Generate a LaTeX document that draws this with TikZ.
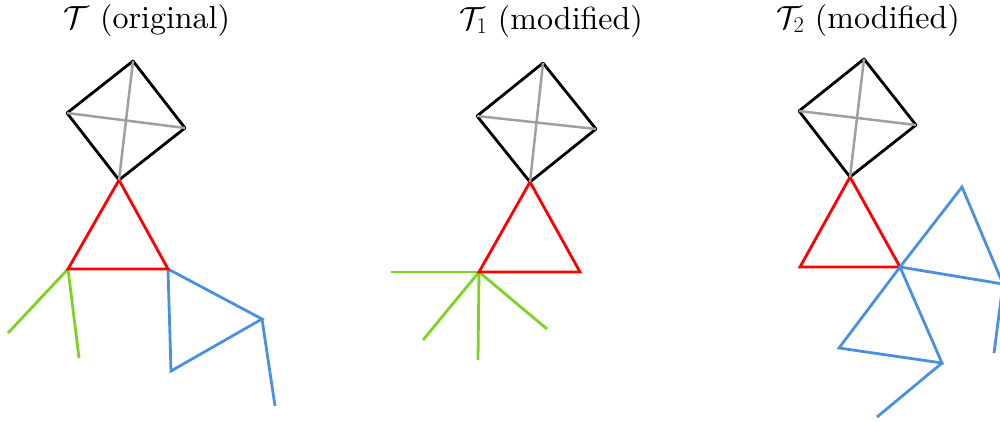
\RequirePackage{fix-cm}
\documentclass[tikz,border=0pt]{standalone}
\usepackage{fontspec}
\setmainfont{lmroman10-regular.otf}
\definecolor{grn}{HTML}{7ED321}
\definecolor{blu}{HTML}{4A90E2}
\definecolor{gry}{HTML}{A0A0A0}
\tikzset{
  sq/.style={draw=black,line width=2.8pt,line join=round},
  diag/.style={draw=gry,line width=2.5pt},
  tri/.style={draw=red,line width=2.8pt,line join=miter},
  gedge/.style={draw=grn,line width=2.8pt},
  bedge/.style={draw=blu,line width=2.8pt,line join=miter},
  title/.style={anchor=base,inner sep=0pt,font=\fontsize{32pt}{38pt}\selectfont}
}
\begin{document}
\begin{tikzpicture}[x=1pt,y=-1pt]
\clip (0,0) rectangle (1000,421);
% titles
\node[title] (t0) at (147,28) {$\mathcal{T}$ (original)};
\node[title] (t1) at (551,29) {$\mathcal{T}_1$ (modified)};
\node[title] (t2) at (868,28) {$\mathcal{T}_2$ (modified)};
% panel 1
\coordinate (a1t) at (133,61); \coordinate (a1l) at (67,113);
\coordinate (a1r) at (185,128); \coordinate (a1b) at (119,180);
\coordinate (r1l) at (68,269); \coordinate (r1r) at (168,269);
\coordinate (g1a) at (8,333); \coordinate (g1b) at (79,358);
\coordinate (b1a) at (262,319); \coordinate (b1b) at (171,371); \coordinate (b1c) at (275,406);
\draw[gedge] (r1l) -- (g1a);
\draw[gedge] (r1l) -- (g1b);
\draw[bedge] (r1r) -- (b1a) -- (b1b) -- cycle;
\draw[bedge] (b1a) -- (b1c);
\draw[sq] (a1t) -- (a1r) -- (a1b) -- (a1l) -- cycle;
\draw[tri] (a1b) -- (r1r) -- (r1l) -- cycle;
\draw[diag] (a1t) -- (a1b);
\draw[diag] (a1l) -- (a1r);
% panel 2
\coordinate (a2t) at (543,63); \coordinate (a2l) at (477,116);
\coordinate (a2r) at (596,129); \coordinate (a2b) at (530,182);
\coordinate (r2l) at (479,272); \coordinate (r2r) at (580,272);
\coordinate (g2a) at (391,272); \coordinate (g2b) at (423,340);
\coordinate (g2c) at (478,360); \coordinate (g2d) at (547,329);
\draw[gedge] (r2l) -- (g2a);
\draw[gedge] (r2l) -- (g2b);
\draw[gedge] (r2l) -- (g2c);
\draw[gedge] (r2l) -- (g2d);
\draw[sq] (a2t) -- (a2r) -- (a2b) -- (a2l) -- cycle;
\draw[tri] (a2b) -- (r2r) -- (r2l) -- cycle;
\draw[diag] (a2t) -- (a2b);
\draw[diag] (a2l) -- (a2r);
% panel 3
\coordinate (a3t) at (864,59); \coordinate (a3l) at (799,111);
\coordinate (a3r) at (916,125); \coordinate (a3b) at (850,177);
\coordinate (r3l) at (800,267); \coordinate (r3r) at (900,267);
\coordinate (b3a) at (962,187); \coordinate (b3b) at (1003,284); \coordinate (b3c) at (994,353);
\coordinate (b3d) at (839,348); \coordinate (b3e) at (942,363); \coordinate (b3f) at (877,417);
\draw[sq] (a3t) -- (a3r) -- (a3b) -- (a3l) -- cycle;
\draw[tri] (a3b) -- (r3r) -- (r3l) -- cycle;
\draw[diag] (a3t) -- (a3b);
\draw[diag] (a3l) -- (a3r);
\draw[bedge] (r3r) -- (b3a) -- (b3b) -- cycle;
\draw[bedge] (b3b) -- (b3c);
\draw[bedge] (r3r) -- (b3d) -- (b3e) -- cycle;
\draw[bedge] (b3e) -- (b3f);
\end{tikzpicture}
\end{document}
